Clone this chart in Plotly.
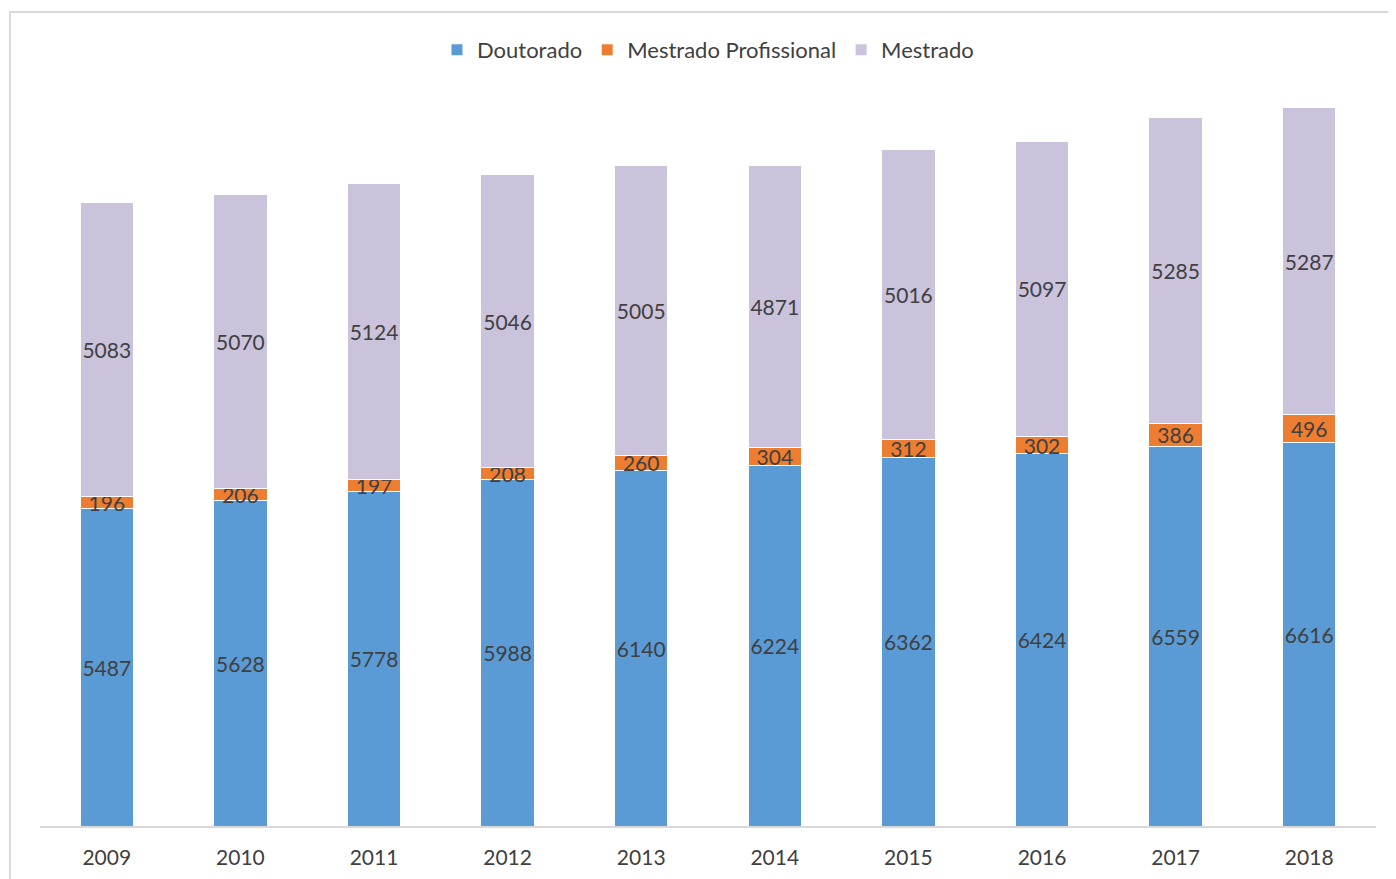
import plotly.graph_objects as go

years = ["2009", "2010", "2011", "2012", "2013", "2014", "2015", "2016", "2017", "2018"]
doutorado = [5487, 5628, 5778, 5988, 6140, 6224, 6362, 6424, 6559, 6616]
mestrado_prof = [196, 206, 197, 208, 260, 304, 312, 302, 386, 496]
mestrado = [5083, 5070, 5124, 5046, 5005, 4871, 5016, 5097, 5285, 5287]

FONT = "Lato"
TXT = "#404040"

series = [
    ("Doutorado", doutorado, "#5B9BD5"),
    ("Mestrado Profissional", mestrado_prof, "#ED7D31"),
    ("Mestrado", mestrado, "#CBC2DC"),
]

fig = go.Figure()
for name, vals, color in series:
    fig.add_trace(go.Bar(
        x=years, y=vals, name=name,
        marker=dict(color=color, line=dict(color="white", width=1)),
        text=[str(v) for v in vals],
        textposition="inside",
        insidetextanchor="middle",
        textangle=0,
        constraintext="none",
        textfont=dict(family=FONT, size=21, color=TXT),
        width=0.4,
    ))

W, H = 1388, 871  # page body adds an 8px offset
fig.update_layout(
    barmode="stack",
    width=W, height=H,
    margin=dict(l=32, r=20, t=9, b=53),
    paper_bgcolor="white", plot_bgcolor="white",
    font=dict(family=FONT, size=20, color=TXT),
    uniformtext=dict(minsize=21, mode="show"),
    showlegend=True,
    legend=dict(orientation="h", x=0.5, xanchor="center", y=0.9592, yanchor="middle",
                font=dict(family=FONT, size=22, color=TXT), itemwidth=30,
                traceorder="normal"),
    xaxis=dict(showline=True, linecolor="#D9D9D9", linewidth=1.5, showgrid=False,
               ticks="", ticklabelstandoff=12, tickfont=dict(family=FONT, size=21, color=TXT),
               range=[-0.5, 9.5]),
    yaxis=dict(range=[0, 13970], visible=False, showgrid=False),
    shapes=[dict(type="rect", xref="paper", yref="paper",
                 x0=(2 - 32) / 1336, x1=1.2, y0=-0.3, y1=1 + (9 - 4) / 809,
                 line=dict(color="#D9D9D9", width=2), fillcolor="rgba(0,0,0,0)", layer="below")],
)

fig.write_html("out.html")
